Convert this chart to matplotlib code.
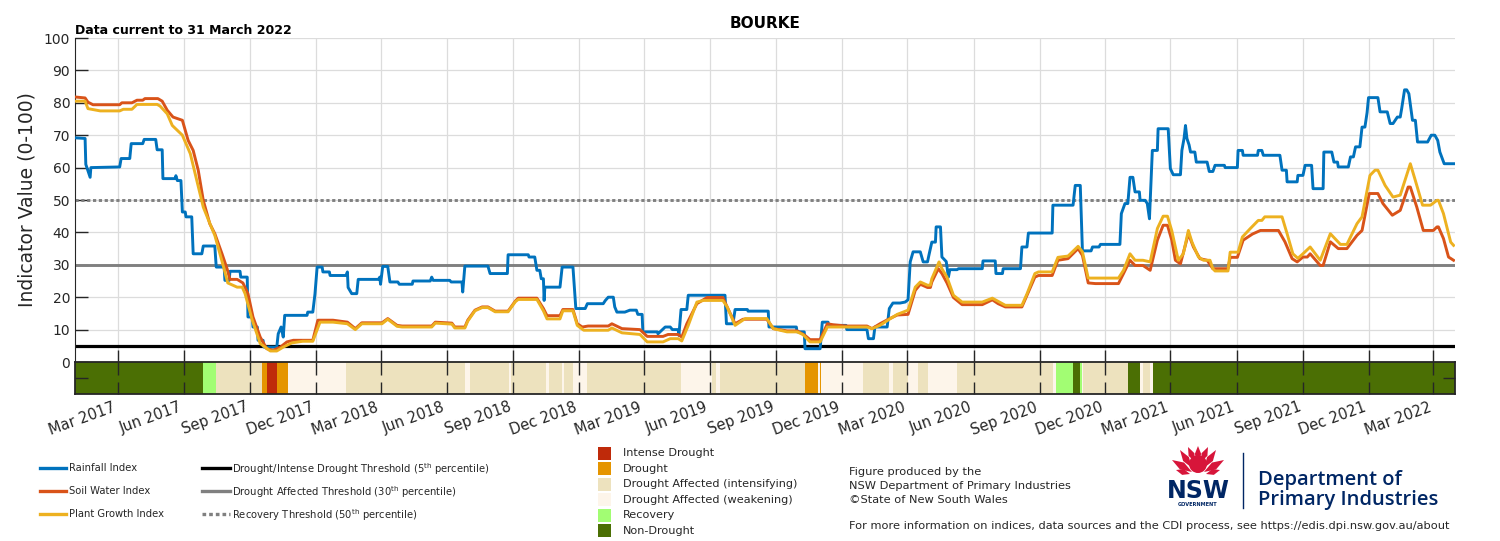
import pandas as pd
import matplotlib
matplotlib.use("Agg")
import matplotlib.pyplot as plt
import matplotlib.dates as mdates
from matplotlib.patches import Rectangle, Polygon, Ellipse
from matplotlib.lines import Line2D

# ---- data (days counted from START) ----
START = pd.Timestamp("2017-01-01")
END = pd.Timestamp("2022-03-31")

rain_day = [0, 14, 15, 18, 21, 22, 62, 64, 76, 78, 94, 96, 112, 114, 121, 122, 139, 140, 142, 147,
            149, 153, 154, 162, 164, 176, 178, 194, 196, 207, 208, 214, 215, 229, 230, 239, 240, 246, 247, 253,
            254, 261, 262, 280, 282, 286, 289, 291, 322, 323, 330, 333, 336, 343, 344, 353, 354, 376, 378, 379,
            384, 391, 393, 421, 423, 424, 427, 434, 437, 448, 450, 468, 469, 493, 495, 497, 520, 522, 537, 538,
            541, 573, 576, 600, 601, 629, 630, 638, 641, 645, 647, 650, 651, 652, 673, 676, 691, 694, 695, 708,
            711, 733, 736, 740, 747, 749, 752, 763, 770, 779, 781, 787, 788, 808, 809, 819, 826, 829, 837, 838,
            841, 849, 851, 902, 904, 913, 916, 933, 934, 962, 963, 1001, 1002, 1012, 1013, 1034, 1037, 1045, 1046, 1070,
            1071, 1099, 1101, 1108, 1110, 1127, 1130, 1135, 1145, 1152, 1156, 1159, 1163, 1173, 1177, 1183, 1185, 1189, 1194, 1195,
            1201, 1203, 1209, 1212, 1214, 1224, 1226, 1259, 1260, 1277, 1278, 1287, 1288, 1312, 1314, 1321, 1323, 1356, 1357, 1385,
            1388, 1395, 1398, 1410, 1412, 1421, 1423, 1450, 1452, 1457, 1461, 1464, 1468, 1471, 1477, 1478, 1485, 1488, 1491, 1495,
            1502, 1503, 1517, 1520, 1524, 1534, 1536, 1539, 1541, 1543, 1546, 1548, 1554, 1556, 1571, 1574, 1579, 1582, 1595, 1596,
            1613, 1614, 1620, 1621, 1641, 1642, 1647, 1649, 1672, 1675, 1681, 1682, 1696, 1697, 1704, 1707, 1716, 1718, 1732, 1733,
            1744, 1747, 1752, 1753, 1767, 1770, 1774, 1777, 1783, 1786, 1790, 1793, 1795, 1808, 1811, 1821, 1825, 1829, 1835, 1839,
            1841, 1845, 1848, 1851, 1856, 1860, 1863, 1877, 1882, 1887, 1891, 1894, 1900, 1913]
rain_val = [69.2, 69.0, 61, 59, 57, 60, 60.2, 62.8, 62.8, 67.4, 67.4, 68.7, 68.7, 65.5, 65.5, 56.6, 56.6, 57.5, 56, 56,
            46.3, 46.3, 44.8, 44.8, 33.4, 33.4, 35.8, 35.8, 29.3, 29.3, 25.2, 25.2, 28, 28, 26.2, 26.2, 13.9, 13.9, 10.8, 10.8,
            6.7, 6.7, 4.6, 4.6, 8.7, 10.8, 7.7, 14.4, 14.4, 15.4, 15.4, 21, 29.3, 29.3, 27.8, 27.8, 26.7, 26.7, 27.8, 23,
            21.1, 21.1, 25.5, 25.5, 26.2, 24, 29.5, 29.5, 24.7, 24.7, 24, 24, 25, 25, 26.2, 25.2, 25.2, 24.7, 24.7, 21.6,
            29.6, 29.6, 27.3, 27.3, 33.1, 33.1, 32.4, 32.4, 28.3, 28.3, 25.7, 25.7, 19, 23.1, 23.1, 29.3, 29.3, 20, 16.5, 16.5,
            18, 18, 19, 20, 20, 17, 15.4, 15.4, 16, 16, 14.7, 14.7, 9.3, 9.3, 8.7, 10.8, 10.8, 10, 10, 8.2,
            16.2, 16.2, 20.6, 20.6, 11.8, 11.8, 16.2, 16.2, 15.7, 15.7, 10.8, 10.8, 9.3, 9.3, 4.1, 4.1, 12.3, 12.3, 11.3, 11.3,
            10, 10, 7.2, 7.2, 10.8, 10.8, 16.5, 18.2, 18.2, 18.5, 19.2, 30.9, 34, 34, 30.9, 30.9, 33, 37, 37, 41.7,
            41.7, 32.4, 31, 26.2, 28.5, 28.5, 28.8, 28.8, 31.2, 31.2, 27.3, 27.3, 28.8, 28.8, 35.5, 35.5, 39.8, 39.8, 48.4, 48.4,
            54.5, 54.5, 34.3, 34.3, 35.5, 35.5, 36.3, 36.3, 45.8, 48.9, 48.9, 57, 57, 52.5, 52.5, 49.9, 49.9, 48.9, 44.2, 65.3,
            65.3, 72, 72, 59.7, 57.8, 57.8, 65.3, 69, 73, 69, 67, 64.8, 64.8, 61.7, 61.7, 58.8, 58.8, 60.7, 60.7, 60,
            60, 65.3, 65.3, 63.8, 63.8, 65.3, 65.3, 63.8, 63.8, 59.2, 59.2, 55.6, 55.6, 57.6, 57.6, 60.7, 60.7, 53.5, 53.5, 64.8,
            64.8, 61.7, 61.7, 60.2, 60.2, 63.3, 63.3, 66.4, 66.4, 72.5, 72.5, 77, 81.6, 81.6, 77.2, 77.2, 73.6, 73.6, 75.6, 75.6,
            78.2, 84, 84, 82.8, 74.6, 74.6, 67.9, 67.9, 70, 70, 68.4, 64.8, 61.2, 61.2]

soil_day = [0, 14, 18, 25, 62, 65, 79, 86, 94, 97, 115, 121, 128, 136, 149, 157, 164, 171, 178, 187,
            194, 204, 211, 215, 225, 233, 240, 247, 257, 266, 275, 285, 294, 303, 330, 337, 358, 378, 389, 398,
            426, 434, 447, 454, 495, 500, 523, 527, 541, 545, 555, 565, 573, 583, 601, 611, 615, 641, 650, 655,
            673, 677, 691, 697, 704, 712, 740, 745, 759, 784, 794, 816, 823, 837, 842, 849, 863, 877, 899, 905,
            916, 927, 960, 969, 988, 1002, 1013, 1020, 1034, 1044, 1052, 1071, 1099, 1106, 1117, 1128, 1141, 1156, 1166, 1173,
            1183, 1187, 1189, 1198, 1203, 1210, 1219, 1231, 1259, 1273, 1281, 1291, 1314, 1321, 1332, 1337, 1356, 1364, 1378, 1392,
            1398, 1406, 1416, 1448, 1455, 1464, 1471, 1482, 1492, 1502, 1510, 1516, 1522, 1527, 1534, 1545, 1552, 1561, 1571, 1579,
            1600, 1603, 1613, 1621, 1634, 1645, 1670, 1679, 1689, 1696, 1704, 1710, 1714, 1728, 1732, 1742, 1753, 1765, 1779, 1786,
            1796, 1808, 1815, 1828, 1839, 1850, 1853, 1862, 1871, 1885, 1890, 1892, 1899, 1906, 1913]
soil_val = [81.8, 81.5, 80.2, 79.4, 79.4, 80, 80, 80.8, 80.8, 81.3, 81.3, 80.5, 77.7, 75.6, 74.6, 68.4, 65.3, 59.2, 49.9, 42.7,
            39.6, 33.4, 28.8, 25.5, 25.5, 24.4, 21.1, 13.9, 7.7, 4.1, 3.6, 4.6, 6.2, 6.7, 6.7, 12.9, 12.9, 12.3, 10.3, 12.1,
            12.1, 13.4, 11.3, 11.1, 11.1, 12.3, 12.0, 10.8, 10.8, 12.9, 16, 17, 17, 15.7, 15.7, 18.8, 19.7, 19.7, 16.5, 14.3,
            14.3, 16.2, 16.2, 11.8, 10.8, 11.1, 11.1, 11.8, 10.3, 10.0, 7.9, 7.9, 8.5, 8.5, 7.7, 11.8, 18, 19.9, 19.9, 17,
            11.8, 13.2, 13.2, 10.3, 9.6, 9.6, 8.2, 6.9, 6.9, 11.8, 11.5, 11.1, 11.1, 10.3, 11.8, 13.1, 14.5, 14.7, 22.1, 24,
            23, 23, 24.7, 28.8, 27.3, 24.4, 19.9, 17.7, 17.7, 19.2, 18, 17, 17, 20.6, 26.2, 26.7, 26.7, 31.4, 31.9, 35,
            32.9, 24.4, 24.2, 24.2, 27.3, 31.4, 29.8, 29.8, 28.3, 37.6, 42.2, 42.2, 37.6, 31.4, 30.3, 39.6, 35.5, 31.9, 31.4, 28.8,
            28.8, 32.3, 32.3, 37.6, 39.5, 40.6, 40.6, 37.1, 31.9, 30.9, 32.4, 32.4, 33.4, 29.8, 29.8, 37.1, 35, 35, 39.1, 40.6,
            52, 52, 48.9, 45.3, 46.8, 54, 54, 47.8, 40.6, 40.6, 41.7, 41.7, 38.1, 32.4, 31.4]

plant_day = [0, 14, 18, 35, 62, 67, 79, 86, 114, 118, 128, 135, 149, 160, 169, 178, 190, 194, 205, 212,
             225, 232, 236, 246, 257, 271, 280, 289, 301, 316, 330, 340, 358, 378, 389, 398, 426, 434, 447, 454,
             495, 500, 523, 527, 541, 545, 555, 565, 573, 583, 601, 611, 615, 641, 650, 655, 673, 677, 691, 697,
             706, 740, 745, 759, 784, 794, 816, 826, 837, 842, 851, 863, 872, 899, 905, 916, 930, 960, 969, 988,
             1002, 1010, 1020, 1034, 1044, 1099, 1106, 1117, 1128, 1141, 1156, 1166, 1173, 1183, 1187, 1189, 1199, 1203, 1210, 1219,
             1231, 1259, 1273, 1291, 1314, 1321, 1332, 1337, 1356, 1364, 1378, 1392, 1398, 1406, 1448, 1455, 1464, 1471, 1482, 1492,
             1502, 1510, 1516, 1522, 1527, 1531, 1538, 1545, 1550, 1559, 1566, 1575, 1579, 1582, 1600, 1603, 1614, 1620, 1631, 1642,
             1647, 1651, 1675, 1682, 1690, 1697, 1704, 1714, 1728, 1742, 1756, 1765, 1779, 1786, 1797, 1804, 1808, 1818, 1829, 1839,
             1853, 1860, 1870, 1881, 1890, 1892, 1899, 1909, 1913]
plant_val = [80.5, 80.5, 78.2, 77.5, 77.5, 78, 78, 79.5, 79.5, 79, 76.6, 73, 70, 64.3, 56, 47.8, 41.2, 39.1, 30.3, 24.4,
             23.1, 23.1, 21.1, 12.9, 5.7, 3.4, 3.4, 4.6, 5.9, 6.4, 6.4, 12.3, 12.3, 11.8, 10.0, 11.8, 11.8, 13.2, 11.0, 10.8,
             10.8, 12.0, 11.7, 10.5, 10.5, 12.6, 15.8, 16.8, 16.8, 15.5, 15.5, 18.6, 19.3, 19.3, 15.8, 13.3, 13.3, 15.8, 15.8, 11.3,
             9.8, 9.8, 10.5, 9.0, 8.5, 6.2, 6.2, 7.2, 7.2, 6.5, 11.3, 18.5, 19, 19, 17, 11.3, 13.4, 13.4, 10.3, 9.3,
             9.3, 8.5, 6.2, 6.2, 10.8, 10.8, 10.3, 11.3, 12.9, 14.7, 16, 23.1, 24.7, 23.7, 23.7, 25.7, 30.9, 28.8, 26.2, 20.6,
             18.5, 18.5, 19.7, 17.5, 17.5, 21, 27.3, 27.8, 27.8, 32.3, 32.7, 35.7, 34, 25.9, 25.9, 28.3, 33.4, 31.4, 31.4, 30.9,
             41.2, 45, 45, 40.5, 35.5, 31.4, 33.4, 40.6, 37, 32.4, 31.4, 31.4, 28.8, 28.1, 28.1, 33.9, 33.9, 38.6, 41.2, 43.7,
             43.7, 44.8, 44.8, 39.6, 33.4, 32, 33.4, 35.5, 31.4, 39.6, 36.3, 36.3, 42.7, 44.8, 57.6, 59.2, 59.2, 54.5, 50.9, 51.5,
             61.2, 56, 48.4, 48.4, 49.9, 49.9, 45.8, 37, 36]

# drought status, each entry starts a period lasting until the next one
status_day = [0, 178, 196, 260, 266, 280, 296, 376, 541, 548, 602, 605, 654, 658, 676, 678, 691, 711, 841, 884,
              890, 895, 1013, 1031, 1034, 1035, 1094, 1130, 1135, 1156, 1170, 1184, 1224, 1357, 1362, 1385, 1395, 1398, 1399, 1461,
              1478, 1482, 1492, 1496]
status_cat = ["ND", "R", "I", "D", "X", "D", "W", "I", "W", "I", "W", "I", "W", "I", "W", "I", "W", "I", "W", "I",
              "W", "I", "D", "W", "D", "W", "I", "W", "I", "W", "I", "W", "I", "W", "R", "ND", "R", "W", "I", "ND",
              "W", "I", "W", "ND"]

status_keys = ["X", "D", "I", "W", "R", "ND"]
status_labels = ["Intense Drought", "Drought", "Drought Affected (intensifying)",
                 "Drought Affected (weakening)", "Recovery", "Non-Drought"]
status_colors = ["#BF2A0A", "#E59500", "#EDE2BE", "#FDF5EA", "#A2FD73", "#4B6F04"]

series_labels = ["Rainfall Index", "Soil Water Index", "Plant Growth Index"]
series_colors = ["#0072BD", "#D95319", "#EDB120"]

thr_values = [5, 30, 50]
thr_labels = [r"Drought/Intense Drought Threshold (5$^{\mathrm{th}}$ percentile)",
              r"Drought Affected Threshold (30$^{\mathrm{th}}$ percentile)",
              r"Recovery Threshold (50$^{\mathrm{th}}$ percentile)"]
thr_colors = ["black", "#808080", "#808080"]
thr_styles = ["-", "-", (0, (1.1, 0.9))]

def to_dates(days):
    return START + pd.to_timedelta(days, unit="D")

W, H = 1500, 541
fig = plt.figure(figsize=(W / 100, H / 100), dpi=100)

# pixel overlay for legend blocks and logo
ov = fig.add_axes([0, 0, 1, 1])
ov.set_xlim(0, W)
ov.set_ylim(H, 0)
ov.set_axis_off()

ax = fig.add_axes([75 / W, 1 - 362 / H, 1380 / W, 324 / H])
axs = fig.add_axes([75 / W, 1 - 394 / H, 1380 / W, 32 / H], sharex=ax)

for v, c, ls in zip(thr_values, thr_colors, thr_styles):
    ax.axhline(v, color=c, lw=2.3 if v == 5 else 2.1, ls=ls, zorder=2)

for d, v, c in zip([rain_day, soil_day, plant_day], [rain_val, soil_val, plant_val], series_colors):
    ax.plot(to_dates(d), v, color=c, lw=2.1, zorder=3)

ax.set_ylim(0, 100)
ax.set_yticks(range(0, 101, 10))
ax.set_xlim(START, END)
ax.grid(True, color="#dcdcdc", lw=0.9)
ax.set_axisbelow(True)
for s in ["top", "right", "bottom"]:
    ax.spines[s].set_visible(False)
ax.spines["left"].set_color("#262626")
ax.tick_params(axis="both", direction="in", length=9, width=1, color="#262626",
               labelsize=10, labelcolor="#262626")
ax.tick_params(axis="x", labelbottom=False)
ax.set_ylabel("Indicator Value (0-100)", fontsize=13.5, color="#262626", labelpad=5)

# status bar
ends = status_day[1:] + [(END - START).days + 1]
for s, e, k in zip(status_day, ends, status_cat):
    col = status_colors[status_keys.index(k)]
    axs.axvspan(to_dates([s])[0], to_dates([e])[0], color=col, lw=0)
axs.set_ylim(0, 1)
axs.set_yticks([0.5])
axs.set_yticklabels([])
axs.xaxis.set_major_locator(mdates.MonthLocator(bymonth=[3, 6, 9, 12]))
axs.xaxis.set_major_formatter(mdates.DateFormatter("%b %Y"))
axs.tick_params(axis="both", direction="in", length=9, width=1, color="#262626",
                top=True, right=True, labelsize=10.5, labelcolor="#262626")
axs.tick_params(axis="x", pad=4)
for lab in axs.get_xticklabels():
    lab.set_rotation(20)
    lab.set_ha("right")
for s in axs.spines.values():
    s.set_color("#262626")
    s.set_linewidth(1.3)
ax.xaxis.set_major_locator(mdates.MonthLocator(bymonth=[3, 6, 9, 12]))

fig.text(765 / W, 1 - 23 / H, "BOURKE", ha="center", va="center", fontsize=11, fontweight="bold")
fig.text(75 / W, 1 - 30 / H, "Data current to 31 March 2022", ha="left", va="center",
         fontsize=9, fontweight="bold")

# legend: index lines
for i, (lab, c) in enumerate(zip(series_labels, series_colors)):
    y = 468 + i * 23
    ov.add_line(Line2D([40, 66], [y, y], color=c, lw=2.4))
    ov.text(69, y, lab, va="center", ha="left", fontsize=7.2, color="#262626")

# legend: thresholds
for i, (lab, c, ls) in enumerate(zip(thr_labels, thr_colors, thr_styles)):
    y = 468 + i * 23
    ov.add_line(Line2D([202, 230], [y, y], color=c, lw=2.4, ls=ls))
    ov.text(232, y + 1.5, lab, va="center", ha="left", fontsize=7.2, color="#262626")

# legend: status colours
for i, (lab, c) in enumerate(zip(status_labels, status_colors)):
    y = 453.5 + i * 15.4
    ov.add_patch(Rectangle((598, y - 6.5), 13, 13, color=c, lw=0))
    ov.text(623, y, lab, va="center", ha="left", fontsize=8.1, color="#262626")

for y, t in zip([472, 486, 500], ["Figure produced by the", "NSW Department of Primary Industries",
                                  "\u00a9State of New South Wales"]):
    ov.text(849, y, t, va="center", ha="left", fontsize=8.2, color="#262626")
ov.text(849, 526, "For more information on indices, data sources and the CDI process, see "
        "https://edis.dpi.nsw.gov.au/about", va="center", ha="left", fontsize=8.2, color="#262626")

# NSW logo
red = "#D7153A"
navy = "#002664"
def petal(bx, by, tx, ty, w):
    mx, my = (bx + tx) / 2, (by + ty) / 2
    dx, dy = tx - bx, ty - by
    n = (dx ** 2 + dy ** 2) ** 0.5
    px, py = -dy / n * w, dx / n * w
    return Polygon([(bx, by), (mx + px, my + py), (tx, ty), (mx - px, my - py)], closed=True, color=red, lw=0)

for bx, by, tx, ty, w in [(1192, 472, 1172, 460, 4), (1204, 472, 1224, 460, 4),
                          (1190, 474, 1176, 470, 3), (1206, 474, 1220, 470, 3),
                          (1192, 468, 1180, 450, 3.5), (1204, 468, 1216, 450, 3.5),
                          (1195, 462, 1188, 447, 3.2), (1201, 462, 1208, 447, 3.2),
                          (1198, 462, 1198, 446, 3.2)]:
    ov.add_patch(petal(bx, by, tx, ty, w))
ov.add_patch(Ellipse((1198, 464), 18, 18, color=red, lw=0))
ov.text(1198, 491, "NSW", ha="center", va="center", fontsize=17, fontweight="bold", color=navy)
ov.text(1198, 505, "GOVERNMENT", ha="center", va="center", fontsize=3.6, fontweight="bold", color=navy)
ov.add_line(Line2D([1243, 1243], [453, 508], color=navy, lw=1))
ov.text(1258, 480, "Department of", ha="left", va="center", fontsize=14.5, color=navy,
        family="Open Sans", fontweight="semibold")
ov.text(1258, 500, "Primary Industries", ha="left", va="center", fontsize=14.5, color=navy,
        family="Open Sans", fontweight="semibold")

plt.savefig("out.png", dpi=100)
